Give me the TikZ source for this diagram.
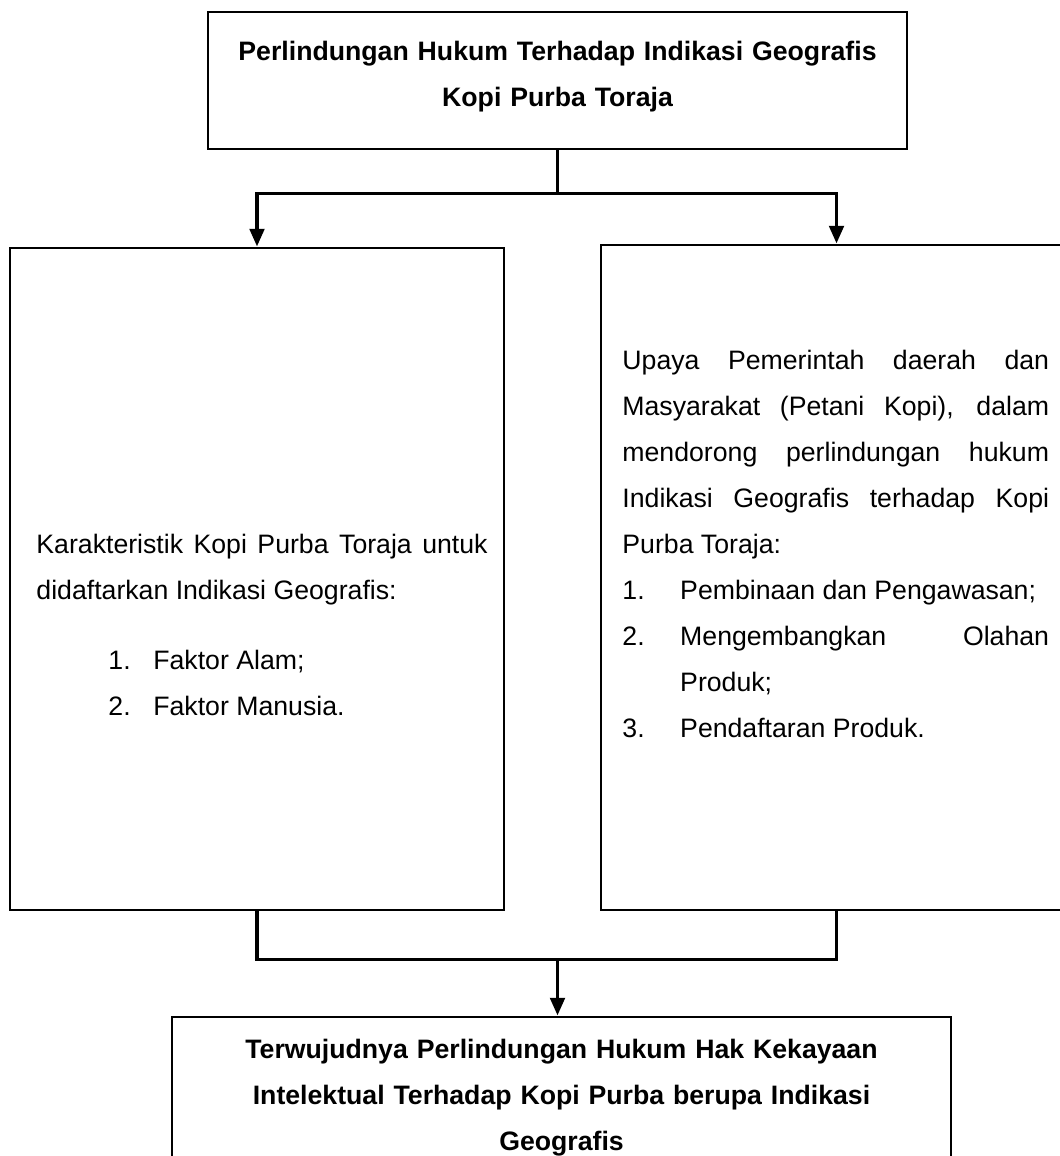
\documentclass[tikz,border=0pt]{standalone}
\usepackage{fontspec}
\setmainfont{Liberation Sans}
\usepackage{tikz}
\usetikzlibrary{arrows.meta,fit,calc}
\setlength{\parindent}{0pt}
\tikzset{every picture/.append style={x=0.45pt,y=-0.45pt}}
\tikzset{kotak/.style={draw, line width=1.3pt, inner sep=0pt}}
\tikzset{garis/.style={line width=1.7pt}}
\tikzset{panah/.style={garis, -{Triangle[width=6.5pt,length=8pt]}}}
\tikzset{teks/.style={inner sep=0pt, align=justify, font=\fontsize{12}{20.7}\selectfont}}
\tikzset{judul/.style={inner sep=0pt, align=center, font=\fontsize{12}{20.7}\selectfont\bfseries}}

\begin{document}
\begin{tikzpicture}
\useasboundingbox (0,0) rectangle (1060,1156);
\clip (0,0) rectangle (1060,1156);

\node (atas) [kotak, fit={(208,12) (907,149)}] {};
\node (kar) [kotak, fit={(10,248) (504,910)}] {};
\node (upaya) [kotak, fit={(601,245) (1072,910)}] {};
\node (hasil) [kotak, fit={(172,1017) (951,1190)}] {};

\node (tatas) [judul, text width=300pt, anchor=north] at ($(atas.north)+(0,30)$)
  {Perlindungan Hukum Terhadap Indikasi Geografis\\Kopi Purba Toraja};

\node (tkar) [teks, text width=203pt, anchor=north west] at (36,534)
  {Karakteristik Kopi Purba Toraja untuk\linebreak didaftarkan Indikasi Geografis:\par
  \vspace{10.8pt}
  \hspace*{32.4pt}\makebox[20.2pt][l]{1.}Faktor Alam;\par
  \hspace*{32.4pt}\makebox[20.2pt][l]{2.}Faktor Manusia.};

\node (tupaya) [teks, text width=192pt, anchor=north west] at (622,350)
  {Upaya Pemerintah daerah dan\linebreak Masyarakat (Petani Kopi), dalam\linebreak
  mendorong perlindungan hukum\linebreak Indikasi Geografis terhadap Kopi\linebreak
  Purba Toraja:\par
  \hangindent=26pt\hangafter=1\makebox[26pt][l]{1.}Pembinaan dan Pengawasan;\par
  \hangindent=26pt\hangafter=1\makebox[26pt][l]{2.}Mengembangkan Olahan\linebreak Produk;\par
  \hangindent=26pt\hangafter=1\makebox[26pt][l]{3.}Pendaftaran Produk.};

\node (thasil) [judul, text width=330pt, anchor=north] at ($(hasil.north)+(0,23)$)
  {Terwujudnya Perlindungan Hukum Hak Kekayaan\\Intelektual Terhadap Kopi Purba berupa Indikasi\\Geografis};

%now the connectors
\draw[garis] (atas.south) -- ++(0,43) coordinate (cabang);
\draw[panah] (cabang) -| (kar.north);
\draw[panah] (cabang) -| (upaya.north);

\coordinate (gabung) at ($(kar.south -| atas.south)+(0,48)$);
\draw[garis] (kar.south) -- ++(0,48) -| (upaya.south);
\draw[panah] (gabung) -- (gabung |- hasil.north);

\end{tikzpicture}
\end{document}
